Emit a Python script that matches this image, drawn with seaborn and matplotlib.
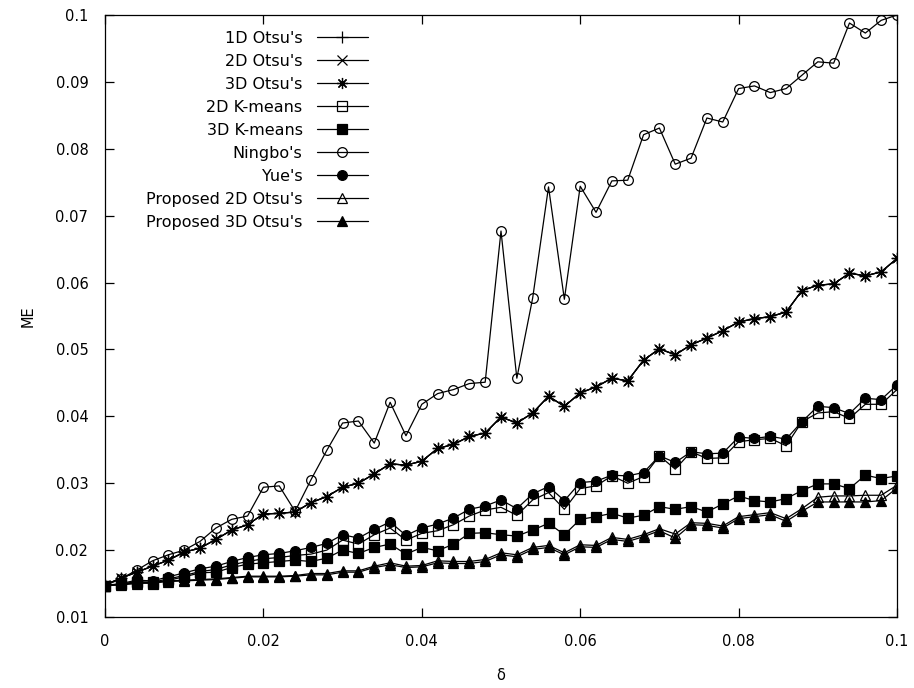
import matplotlib
matplotlib.use("Agg")
import matplotlib.pyplot as plt
import seaborn as sns
from matplotlib.ticker import FuncFormatter

# ---------------- data ----------------
delta = [0.000, 0.002, 0.004, 0.006, 0.008, 0.010, 0.012, 0.014, 0.016, 0.018,
         0.020, 0.022, 0.024, 0.026, 0.028, 0.030, 0.032, 0.034, 0.036, 0.038,
         0.040, 0.042, 0.044, 0.046, 0.048, 0.050, 0.052, 0.054, 0.056, 0.058,
         0.060, 0.062, 0.064, 0.066, 0.068, 0.070, 0.072, 0.074, 0.076, 0.078,
         0.080, 0.082, 0.084, 0.086, 0.088, 0.090, 0.092, 0.094, 0.096, 0.098,
         0.100]

otsu_1d = [0.0148, 0.0158, 0.0167, 0.0176, 0.0185, 0.0197, 0.0203, 0.0216, 0.0230, 0.0238,
           0.0254, 0.0255, 0.0257, 0.0271, 0.0280, 0.0294, 0.0300, 0.0314, 0.0329, 0.0327,
           0.0333, 0.0352, 0.0358, 0.0370, 0.0375, 0.0399, 0.0390, 0.0405, 0.0430, 0.0415,
           0.0435, 0.0444, 0.0457, 0.0453, 0.0484, 0.0501, 0.0492, 0.0507, 0.0517, 0.0528,
           0.0541, 0.0546, 0.0549, 0.0556, 0.0588, 0.0596, 0.0598, 0.0614, 0.0610, 0.0616,
           0.0636]
otsu_2d = list(otsu_1d)
otsu_3d = list(otsu_1d)

kmeans_2d = [0.0147, 0.0149, 0.0153, 0.0152, 0.0157, 0.0162, 0.0168, 0.0171, 0.0178, 0.0183,
             0.0187, 0.0189, 0.0192, 0.0194, 0.0200, 0.0215, 0.0209, 0.0223, 0.0233, 0.0215,
             0.0225, 0.0229, 0.0238, 0.0251, 0.0260, 0.0264, 0.0252, 0.0275, 0.0286, 0.0261,
             0.0292, 0.0296, 0.0311, 0.0300, 0.0310, 0.0341, 0.0321, 0.0347, 0.0337, 0.0338,
             0.0362, 0.0365, 0.0367, 0.0356, 0.0392, 0.0405, 0.0407, 0.0397, 0.0418, 0.0418,
             0.0440]

kmeans_3d = [0.0147, 0.0149, 0.0152, 0.0150, 0.0155, 0.0160, 0.0166, 0.0167, 0.0174, 0.0179,
             0.0181, 0.0183, 0.0185, 0.0183, 0.0188, 0.0200, 0.0195, 0.0204, 0.0209, 0.0194,
             0.0204, 0.0199, 0.0209, 0.0225, 0.0226, 0.0223, 0.0221, 0.0230, 0.0240, 0.0223,
             0.0246, 0.0250, 0.0255, 0.0248, 0.0252, 0.0265, 0.0261, 0.0265, 0.0257, 0.0269,
             0.0281, 0.0274, 0.0272, 0.0277, 0.0289, 0.0299, 0.0299, 0.0292, 0.0312, 0.0307,
             0.0311]

ningbo = [0.0147, 0.0157, 0.0170, 0.0184, 0.0193, 0.0200, 0.0213, 0.0233, 0.0246, 0.0251,
          0.0294, 0.0296, 0.0258, 0.0305, 0.0349, 0.0390, 0.0393, 0.0360, 0.0421, 0.0371,
          0.0418, 0.0434, 0.0440, 0.0449, 0.0451, 0.0677, 0.0457, 0.0577, 0.0743, 0.0575,
          0.0744, 0.0705, 0.0752, 0.0753, 0.0821, 0.0831, 0.0777, 0.0786, 0.0846, 0.0840,
          0.0890, 0.0894, 0.0884, 0.0890, 0.0910, 0.0930, 0.0928, 0.0988, 0.0973, 0.0992,
          0.1000]

yue = [0.0147, 0.0150, 0.0155, 0.0154, 0.0160, 0.0166, 0.0172, 0.0176, 0.0183, 0.0189,
       0.0193, 0.0195, 0.0199, 0.0204, 0.0210, 0.0223, 0.0218, 0.0231, 0.0242, 0.0222,
       0.0233, 0.0239, 0.0248, 0.0261, 0.0266, 0.0275, 0.0262, 0.0284, 0.0295, 0.0274,
       0.0301, 0.0303, 0.0312, 0.0311, 0.0316, 0.0341, 0.0331, 0.0347, 0.0344, 0.0345,
       0.0369, 0.0367, 0.0370, 0.0366, 0.0392, 0.0415, 0.0413, 0.0404, 0.0427, 0.0425,
       0.0447]

prop_2d = [0.0147, 0.0149, 0.0151, 0.0152, 0.0154, 0.0155, 0.0156, 0.0157, 0.0159, 0.0161,
           0.0161, 0.0161, 0.0162, 0.0165, 0.0165, 0.0169, 0.0169, 0.0176, 0.0181, 0.0176,
           0.0177, 0.0184, 0.0183, 0.0183, 0.0186, 0.0196, 0.0193, 0.0204, 0.0207, 0.0196,
           0.0208, 0.0207, 0.0219, 0.0216, 0.0223, 0.0232, 0.0224, 0.0241, 0.0240, 0.0236,
           0.0250, 0.0253, 0.0256, 0.0247, 0.0262, 0.0279, 0.0281, 0.0281, 0.0282, 0.0282,
           0.0297]

prop_3d = [0.0147, 0.0148, 0.0150, 0.0151, 0.0153, 0.0154, 0.0155, 0.0156, 0.0158, 0.0160,
           0.0160, 0.0160, 0.0161, 0.0163, 0.0163, 0.0167, 0.0167, 0.0174, 0.0178, 0.0174,
           0.0175, 0.0181, 0.0180, 0.0180, 0.0183, 0.0193, 0.0190, 0.0201, 0.0204, 0.0193,
           0.0205, 0.0204, 0.0216, 0.0213, 0.0220, 0.0229, 0.0218, 0.0238, 0.0237, 0.0233,
           0.0247, 0.0250, 0.0253, 0.0243, 0.0258, 0.0272, 0.0272, 0.0272, 0.0272, 0.0274,
           0.0293]

series_names = ["1D Otsu's", "2D Otsu's", "3D Otsu's", "2D K-means", "3D K-means",
                "Ningbo's", "Yue's", "Proposed 2D Otsu's", "Proposed 3D Otsu's"]
series_values = [otsu_1d, otsu_2d, otsu_3d, kmeans_2d, kmeans_3d,
                 ningbo, yue, prop_2d, prop_3d]

x_ticks = [0, 0.02, 0.04, 0.06, 0.08, 0.1]
y_ticks = [0.01, 0.02, 0.03, 0.04, 0.05, 0.06, 0.07, 0.08, 0.09, 0.1]

# ---------------- styles ----------------
styles = [
    dict(marker="+", mfc="black", ms=8),
    dict(marker="x", mfc="black", ms=6.5),
    dict(marker=(8, 2, 0), mfc="black", ms=8),
    dict(marker="s", mfc="none", ms=6.5),
    dict(marker="s", mfc="black", ms=6.5),
    dict(marker="o", mfc="none", ms=7),
    dict(marker="o", mfc="black", ms=7),
    dict(marker="^", mfc="none", ms=6.5),
    dict(marker="^", mfc="black", ms=6.5),
]

sns.set_style("ticks")
plt.rcParams["font.family"] = ["DejaVu Sans"]
plt.rcParams["text.color"] = "black"
plt.rcParams["axes.labelcolor"] = "black"

fig = plt.figure(figsize=(9.14, 6.88), dpi=100)
ax = fig.add_axes([105 / 914, 1 - 617 / 688, 792 / 914, 602 / 688])

for name, vals, st in zip(series_names, series_values, styles):
    sns.lineplot(x=delta, y=vals, ax=ax, color="black", linewidth=0.9,
                 marker=st["marker"], markersize=st["ms"],
                 markerfacecolor=st["mfc"], markeredgecolor="black",
                 markeredgewidth=0.9, label=name)

ax.set_xlim(0, 0.1)
ax.set_ylim(0.01, 0.1)
ax.set_xticks(x_ticks)
ax.set_yticks(y_ticks)
fmt = FuncFormatter(lambda v, p: "%g" % round(v, 4))
ax.xaxis.set_major_formatter(fmt)
ax.yaxis.set_major_formatter(fmt)
ax.tick_params(axis="both", which="major", direction="in", length=6.5, width=0.9,
               top=True, right=True, labelsize=10.5, pad=12, colors="black")

for sp in ax.spines.values():
    sp.set_visible(True)
    sp.set_linewidth(0.9)
    sp.set_color("black")

ax.set_xlabel("δ", fontsize=10.5, color="black")
ax.set_ylabel("ME", fontsize=10.5, color="black")
ax.xaxis.set_label_coords(0.5, -0.085)
ax.yaxis.set_label_coords(-0.087, 0.5)

leg = ax.legend(loc="upper right", bbox_to_anchor=((368 - 105) / 792, (617 - 31) / 602),
                frameon=False, markerfirst=False, fontsize=11.5, handlelength=3.2,
                handletextpad=0.9, labelspacing=0.5, borderpad=0, borderaxespad=0,
                numpoints=1, labelcolor="black")

fig.savefig("out.png", dpi=100, facecolor="white")
